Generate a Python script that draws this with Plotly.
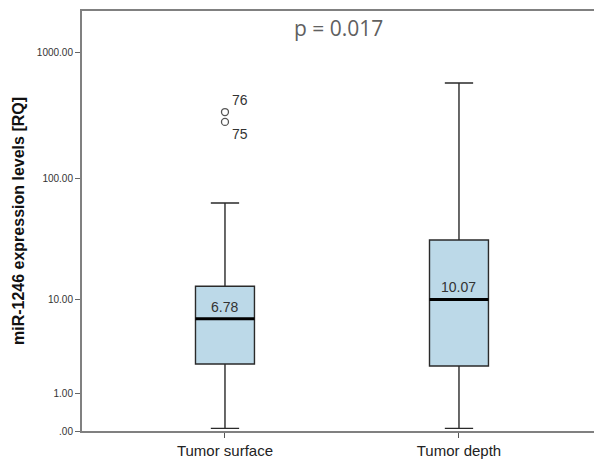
import numpy as np
import plotly.graph_objects as go

categories = ["Tumor surface", "Tumor depth"]
q1 = [2.40, 2.28]
medians = [6.78, 10.07]
q3 = [13.1, 31.8]
lower_whisker = [0.05, 0.05]
upper_whisker = [63.5, 577.0]
outlier_values = [339.0, 283.0]
outlier_ids = ["76", "75"]
outlier_group = [0, 0]
tick_labels = [".00", "1.00", "10.00", "100.00", "1000.00"]
tick_values = [0.0, 1.0, 10.0, 100.0, 1000.0]
p_text = "p = 0.017"

def tr(v):
    return np.log10(np.asarray(v, dtype=float) + 1.0)

FONT = "Liberation Sans, Arial, sans-serif"
BOXW = 0.252
xpos = list(range(len(categories)))

fig = go.Figure()
for i, c in enumerate(categories):
    fig.add_trace(go.Box(
        x=[xpos[i]],
        q1=[float(tr(q1[i]))], median=[float(tr(medians[i]))], q3=[float(tr(q3[i]))],
        lowerfence=[float(tr(lower_whisker[i]))], upperfence=[float(tr(upper_whisker[i]))],
        width=BOXW, whiskerwidth=0.48,
        fillcolor="#bcd9e8", line=dict(color="#2a2a2a", width=1.4),
        boxpoints=False, showlegend=False, hoverinfo="skip",
    ))
    fig.add_trace(go.Scatter(
        x=[xpos[i] - BOXW / 2, xpos[i] + BOXW / 2],
        y=[float(tr(medians[i]))] * 2,
        mode="lines", line=dict(color="black", width=3),
        showlegend=False, hoverinfo="skip",
    ))
    fig.add_annotation(
        x=xpos[i], y=float(tr(medians[i])), text=f"{medians[i]:.2f}",
        showarrow=False, yanchor="bottom", yshift=2,
        font=dict(family=FONT, size=14, color="#333"),
    )

ox = [xpos[g] for g in outlier_group]
oy = tr(outlier_values)
fig.add_trace(go.Scatter(
    x=ox, y=oy, mode="markers",
    marker=dict(symbol="circle-open", size=7, color="#555", line=dict(width=1.3)),
    showlegend=False, hoverinfo="skip",
))
for k, (x, y, lab) in enumerate(zip(ox, oy, outlier_ids)):
    fig.add_annotation(
        x=x, y=float(y), text=lab, showarrow=False,
        xanchor="left", xshift=5,
        yanchor="bottom" if k == 0 else "top", yshift=2 if k == 0 else -2,
        font=dict(family=FONT, size=14, color="#333"),
    )

fig.add_annotation(
    xref="paper", yref="paper", x=0.5, y=1, yanchor="top", yshift=-1,
    text=p_text, showarrow=False,
    font=dict(family="Open Sans, Liberation Sans, sans-serif", size=21, color="#606060"),
)

fig.update_layout(
    width=594, height=459,
    margin=dict(l=82, r=0, t=11, b=28),
    paper_bgcolor="white", plot_bgcolor="white",
    font=dict(family=FONT),
    xaxis=dict(
        range=[-0.611, 1.577], tickvals=xpos, ticktext=categories,
        showgrid=False, zeroline=False,
        showline=True, linecolor="#808080", linewidth=2, mirror=True,
        ticks="outside", ticklen=5, tickcolor="#555", tickwidth=1,
        tickfont=dict(family=FONT, size=15, color="#222"),
    ),
    yaxis=dict(
        range=[0, 3.3333], tickvals=[float(v) for v in tr(tick_values)], ticktext=tick_labels,
        showgrid=False, zeroline=False,
        showline=True, linecolor="#808080", linewidth=2,
        ticks="outside", ticklen=5, tickcolor="#666", tickwidth=1,
        tickfont=dict(family=FONT, size=10, color="#333"),
        title=dict(text="<b>miR-1246 expression levels [RQ]</b>", standoff=8,
                   font=dict(family=FONT, size=16, color="#111")),
    ),
)

fig.write_html("out.html")
